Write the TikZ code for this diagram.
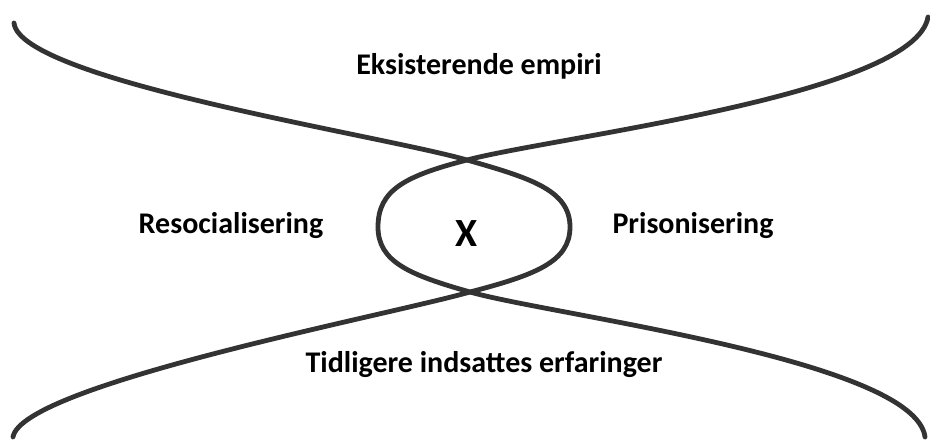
\documentclass[tikz,border=0pt]{standalone}
\usepackage{fontspec}
\setmainfont{Carlito}
\usepackage{tikz}

\begin{document}
\begin{tikzpicture}[x=0.5pt,y=-0.5pt,line width=2.4pt,line cap=round]
\tikzstyle{lbl}=[font=\bfseries\fontsize{15}{18}\selectfont,anchor=base,inner sep=0pt]
\tikzstyle{strand}=[draw=black!80]
\useasboundingbox (0,0) rectangle (930,442);
\coordinate (tl) at (14,23);
\coordinate (tr) at (928,17);
\coordinate (bl) at (13,437);
\coordinate (br) at (925,437);
\coordinate (topx) at (467,160);
\coordinate (botx) at (470,292);
\coordinate (lefte) at (378,227);
\coordinate (righte) at (570,227);
\draw[strand] (tl) .. controls (20,80) and (380,135) .. (topx)
    .. controls (530,178) and (570,190) .. (righte)
    .. controls (570,262) and (535,275) .. (botx)
    .. controls (385,316) and (22,385) .. (bl);
\draw[strand] (tr) .. controls (915,95) and (554,137) .. (topx)
    .. controls (405,176) and (378,190) .. (lefte)
    .. controls (378,262) and (410,275) .. (botx)
    .. controls (550,315) and (915,360) .. (br);
\node[lbl] (empiri) at (479,75) {Eksisterende empiri};
\node[lbl] (resoc) at (231,234) {Resocialisering};
\node[lbl] (prison) at (693,234) {Prisonisering};
\node[lbl,font=\bfseries\fontsize{20}{24}\selectfont] (x) at (467,247) {X};
\node[lbl] (erfaring) at (484,372) {Tidligere indsattes erfaringer};
\end{tikzpicture}
\end{document}
